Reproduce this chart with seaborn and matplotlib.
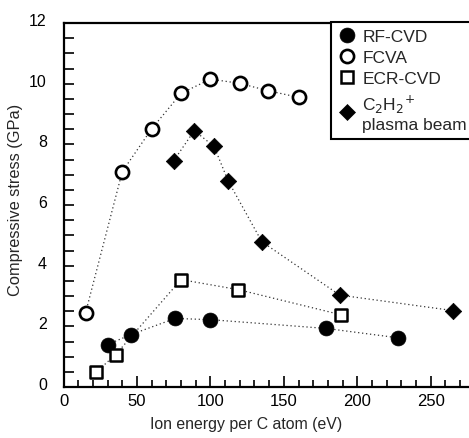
import numpy as np
import pandas as pd
import matplotlib
matplotlib.use("Agg")
import matplotlib.pyplot as plt
import matplotlib.transforms as mtransforms
from matplotlib.lines import Line2D
import seaborn as sns

# ===============================
# Data
# ===============================
rf_x = [30, 46, 76, 100, 179, 228]
rf_y = [1.40, 1.73, 2.26, 2.22, 1.93, 1.62]

fcva_x = [15, 40, 60, 80, 100, 120, 139, 160]
fcva_y = [2.44, 7.10, 8.51, 9.68, 10.15, 10.01, 9.77, 9.55]

ecr_x = [22, 35.5, 80, 119, 189]
ecr_y = [0.48, 1.07, 3.54, 3.21, 2.38]

c2h2_x = [75, 89, 102.5, 112, 135, 188, 265]
c2h2_y = [7.46, 8.45, 7.93, 6.80, 4.79, 3.03, 2.52]

series_names = ["RF-CVD", "FCVA", "ECR-CVD", "C$_2$H$_2$$^{+}$\nplasma beam"]

frames = []
for name, xs, ys in zip(series_names,
                        [rf_x, fcva_x, ecr_x, c2h2_x],
                        [rf_y, fcva_y, ecr_y, c2h2_y]):
    frames.append(pd.DataFrame({"energy": xs, "stress": ys, "method": name}))
df = pd.concat(frames, ignore_index=True)

# ===============================
# Style
# ===============================
sns.set_style("ticks")
plt.rcParams["font.family"] = ["Liberation Sans", "DejaVu Sans"]

styles = {
    "RF-CVD": dict(marker="o", s=115, facecolor="black", edgecolor="black", linewidth=0.5),
    "FCVA": dict(marker="o", s=90, facecolor="white", edgecolor="black", linewidth=1.9),
    "ECR-CVD": dict(marker="s", s=80, facecolor="white", edgecolor="black", linewidth=1.8),
    series_names[3]: dict(marker="D", s=70, facecolor="black", edgecolor="black", linewidth=0.5),
}

fig = plt.figure(figsize=(4.69, 4.39), dpi=100)
ax = fig.add_axes([63.5 / 469, 51 / 439, (469 - 63.5) / 469, (388 - 24) / 439])

for name in series_names:
    sub = df[df["method"] == name]
    sns.lineplot(data=sub, x="energy", y="stress", ax=ax, sort=True, estimator=None,
                 color="#333333", linewidth=0.9, linestyle=(0, (1, 2.2)), legend=False)
    sns.scatterplot(data=sub, x="energy", y="stress", ax=ax, legend=False, zorder=3,
                    **styles[name])

ax.set_xlim(0, 276)
ax.set_ylim(0, 12)
ax.set_xticks([0, 50, 100, 150, 200, 250])
ax.set_xticks(np.arange(0, 276, 10), minor=True)
ax.set_yticks([0, 2, 4, 6, 8, 10, 12])
ax.set_yticks(np.arange(0, 12.01, 0.5), minor=True)

ax.tick_params(axis="both", which="both", direction="in", width=1.2, colors="black")
ax.tick_params(axis="y", which="major", length=7, pad=12, labelsize=11.5)
ax.tick_params(axis="y", which="minor", length=7)
ax.tick_params(axis="x", which="major", length=8, pad=4, labelsize=12)
ax.tick_params(axis="x", which="minor", length=5)

for side in ["left", "bottom", "top"]:
    ax.spines[side].set_linewidth(1.6)
    ax.spines[side].set_color("black")
ax.spines["right"].set_visible(False)

# y tick labels sit a little above their ticks in the original
offset = mtransforms.ScaledTranslation(0, 4 / 100, fig.dpi_scale_trans)
for lab in ax.get_yticklabels():
    lab.set_transform(lab.get_transform() + offset)

ax.set_xlabel("Ion energy per C atom (eV)", fontsize=11.4)
ax.set_ylabel("Compressive stress (GPa)", fontsize=11.8)
ax.xaxis.set_label_coords((246 - 63.5) / 405.5, -(417 - 388) / 364)
ax.yaxis.set_label_coords(-(63.5 - 23) / 405.5, (388 - 200) / 364)

# ===============================
# Legend
# ===============================
handles = []
for name in series_names:
    st = styles[name]
    handles.append(Line2D([], [], linestyle="none", marker=st["marker"],
                          markersize=np.sqrt(st["s"]), markerfacecolor=st["facecolor"],
                          markeredgecolor=st["edgecolor"], markeredgewidth=st["linewidth"]))
leg = ax.legend(handles, series_names, loc="upper left", bbox_to_anchor=(0.66, 1.003),
                fontsize=12.5, frameon=True, fancybox=False, framealpha=1,
                edgecolor="black", handlelength=1.0, handletextpad=0.4,
                labelspacing=0.35, borderpad=0.4, borderaxespad=0)
leg.get_frame().set_linewidth(1.5)

fig.savefig("out.png", dpi=100)
